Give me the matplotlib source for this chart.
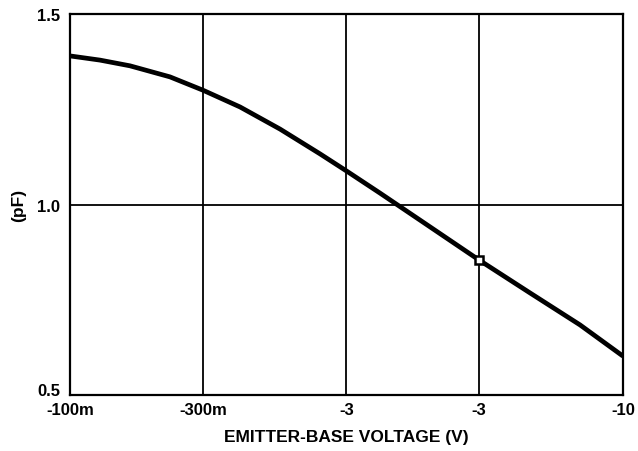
import matplotlib.pyplot as plt

# Curve (x in tick-slot units, 0 = -100m, 4 = -10)
x_pos = [0, 0.217, 0.434, 0.723, 0.962, 1.23, 1.519, 1.808, 2.0, 2.242,
         2.532, 2.96, 3.327, 3.689, 4.0]
cap_pf = [1.39, 1.379, 1.364, 1.335, 1.30, 1.256, 1.198, 1.133, 1.088, 1.030,
          0.959, 0.854, 0.768, 0.684, 0.602]

marker_x = [2.96]
marker_y = [0.854]

tick_pos = [0, 0.962, 2.0, 2.955, 4]
tick_labels = ['-100m', '-300m', '-3', '-3', '-10']
y_ticks = [0.5, 1.0, 1.5]
y_labels = ['0.5', '1.0', '1.5']

plt.rcParams['font.family'] = ['Liberation Sans', 'DejaVu Sans']

fig = plt.figure(figsize=(6.38, 4.52), dpi=100)
ax = fig.add_axes([0.1097, 0.1239, 0.8668, 0.8429])

ax.plot(x_pos, cap_pf, color='black', linewidth=3.4, solid_capstyle='butt', zorder=3)
ax.plot(marker_x, marker_y, linestyle='none', marker='s', markersize=6,
        markerfacecolor='white', markeredgecolor='black', markeredgewidth=1.8, zorder=4)

ax.set_xlim(0, 4)
ax.set_ylim(0.5, 1.5)
ax.set_xticks(tick_pos)
ax.set_xticklabels(tick_labels, fontsize=12, fontweight='bold')
ax.set_yticks(y_ticks)
ax.set_yticklabels(y_labels, fontsize=12, fontweight='bold')
ax.tick_params(axis='x', length=0, pad=5)
ax.tick_params(axis='y', length=0, pad=7)
# bottom y label sits just above the corner so it clears "-100m"
ax.get_yticklabels()[0].set_verticalalignment('baseline')
ax.grid(True, color='black', linewidth=1.3)
for s in ax.spines.values():
    s.set_linewidth(1.6)

ax.set_xlabel('EMITTER-BASE VOLTAGE (V)', fontsize=12.5, fontweight='bold', labelpad=9)
ax.set_ylabel('(pF)', fontsize=12.5, fontweight='bold', labelpad=8)

fig.savefig('out.png', dpi=100)
